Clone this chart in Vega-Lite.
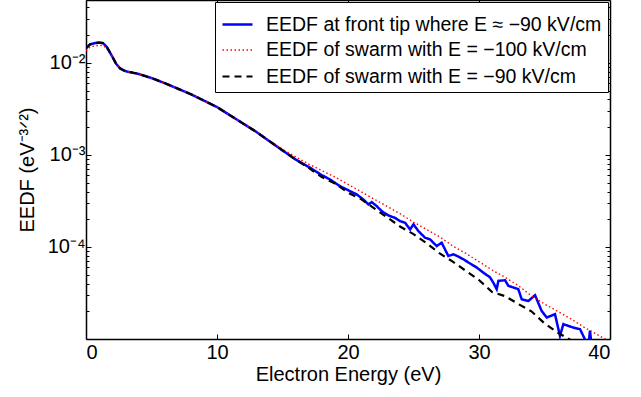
{
  "$schema": "https://vega.github.io/schema/vega-lite/v6.json",
  "width": 524,
  "height": 339,
  "autosize": {"type": "none"},
  "padding": {"left": 86, "top": 0, "right": 31, "bottom": 58},
  "config": {
    "view": {"stroke": null},
    "font": "Liberation Sans",
    "axis": {
      "grid": false,
      "domainColor": "#000000",
      "domainWidth": 1.5,
      "tickColor": "#000000",
      "tickWidth": 1,
      "labelColor": "#000000",
      "titleColor": "#000000",
      "labelFont": "Liberation Sans",
      "titleFont": "Liberation Sans",
      "labelFontSize": 20,
      "titleFontSize": 20,
      "titleFontWeight": "normal"
    }
  },
  "data": {
    "values": [
      {"s": "a", "E": 0, "v": 0.01445},
      {"s": "a", "E": 0.3, "v": 0.01585},
      {"s": "a", "E": 0.7, "v": 0.01641},
      {"s": "a", "E": 1.0, "v": 0.01660},
      {"s": "a", "E": 1.3, "v": 0.01641},
      {"s": "a", "E": 1.6, "v": 0.01479},
      {"s": "a", "E": 2.0, "v": 0.01175},
      {"s": "a", "E": 2.3, "v": 0.00977},
      {"s": "a", "E": 2.6, "v": 0.00871},
      {"s": "a", "E": 3.0, "v": 0.00813},
      {"s": "a", "E": 3.5, "v": 0.00785},
      {"s": "a", "E": 4, "v": 0.00759},
      {"s": "a", "E": 5, "v": 0.00684},
      {"s": "a", "E": 6, "v": 0.00603},
      {"s": "a", "E": 7, "v": 0.00525},
      {"s": "a", "E": 8, "v": 0.00457},
      {"s": "a", "E": 9, "v": 0.00389},
      {"s": "a", "E": 10, "v": 0.00331},
      {"s": "a", "E": 11, "v": 0.00269},
      {"s": "a", "E": 12, "v": 0.00219},
      {"s": "a", "E": 13, "v": 0.00178},
      {"s": "a", "E": 14, "v": 0.00141},
      {"s": "a", "E": 15, "v": 0.00112},
      {"s": "a", "E": 16, "v": 0.000891},
      {"s": "a", "E": 17, "v": 0.000741},
      {"s": "a", "E": 18, "v": 0.000603},
      {"s": "a", "E": 18.63, "v": 0.000541},
      {"s": "a", "E": 19.39, "v": 0.000457},
      {"s": "a", "E": 19.9, "v": 0.000421},
      {"s": "a", "E": 20.67, "v": 0.000372},
      {"s": "a", "E": 21.17, "v": 0.000328},
      {"s": "a", "E": 21.56, "v": 0.000290},
      {"s": "a", "E": 21.81, "v": 0.000307},
      {"s": "a", "E": 22.19, "v": 0.000278},
      {"s": "a", "E": 22.57, "v": 0.000245},
      {"s": "a", "E": 23.08, "v": 0.000220},
      {"s": "a", "E": 23.59, "v": 0.000207},
      {"s": "a", "E": 23.97, "v": 0.000191},
      {"s": "a", "E": 24.36, "v": 0.000183},
      {"s": "a", "E": 24.74, "v": 0.000155},
      {"s": "a", "E": 25.0, "v": 0.000176},
      {"s": "a", "E": 25.37, "v": 0.000149},
      {"s": "a", "E": 25.88, "v": 0.000126},
      {"s": "a", "E": 26.26, "v": 0.000121},
      {"s": "a", "E": 26.77, "v": 0.0001023},
      {"s": "a", "E": 27.15, "v": 0.0001112},
      {"s": "a", "E": 27.66, "v": 0.0000798},
      {"s": "a", "E": 28.05, "v": 0.0000832},
      {"s": "a", "E": 28.43, "v": 0.0000785},
      {"s": "a", "E": 28.81, "v": 0.0000735},
      {"s": "a", "E": 29.32, "v": 0.0000661},
      {"s": "a", "E": 29.83, "v": 0.0000597},
      {"s": "a", "E": 30.33, "v": 0.0000526},
      {"s": "a", "E": 30.84, "v": 0.0000468},
      {"s": "a", "E": 31.09, "v": 0.0000410},
      {"s": "a", "E": 31.35, "v": 0.0000348},
      {"s": "a", "E": 31.48, "v": 0.0000428},
      {"s": "a", "E": 31.99, "v": 0.0000435},
      {"s": "a", "E": 32.24, "v": 0.0000378},
      {"s": "a", "E": 33.0, "v": 0.0000348},
      {"s": "a", "E": 33.26, "v": 0.0000270},
      {"s": "a", "E": 33.77, "v": 0.0000259},
      {"s": "a", "E": 34.28, "v": 0.0000299},
      {"s": "a", "E": 34.78, "v": 0.0000202},
      {"s": "a", "E": 35.17, "v": 0.0000171},
      {"s": "a", "E": 35.8, "v": 0.0000186},
      {"s": "a", "E": 36.18, "v": 0.0000108},
      {"s": "a", "E": 36.44, "v": 0.0000145},
      {"s": "a", "E": 37.2, "v": 0.0000133},
      {"s": "a", "E": 37.71, "v": 0.0000128},
      {"s": "a", "E": 38.09, "v": 0.0000099},
      {"s": "a", "E": 38.35, "v": 0.0000085},
      {"s": "a", "E": 38.47, "v": 0.0000123},
      {"s": "a", "E": 38.6, "v": 0.0000085},

      {"s": "b", "E": 0, "v": 0.01349},
      {"s": "b", "E": 0.3, "v": 0.01479},
      {"s": "b", "E": 0.7, "v": 0.01531},
      {"s": "b", "E": 1.0, "v": 0.01549},
      {"s": "b", "E": 1.3, "v": 0.01549},
      {"s": "b", "E": 1.6, "v": 0.01429},
      {"s": "b", "E": 2.0, "v": 0.01175},
      {"s": "b", "E": 2.3, "v": 0.00977},
      {"s": "b", "E": 2.6, "v": 0.00871},
      {"s": "b", "E": 3.0, "v": 0.00813},
      {"s": "b", "E": 3.5, "v": 0.00785},
      {"s": "b", "E": 4, "v": 0.00759},
      {"s": "b", "E": 5, "v": 0.00684},
      {"s": "b", "E": 6, "v": 0.00603},
      {"s": "b", "E": 7, "v": 0.00525},
      {"s": "b", "E": 8, "v": 0.00457},
      {"s": "b", "E": 9, "v": 0.00389},
      {"s": "b", "E": 10, "v": 0.00331},
      {"s": "b", "E": 11, "v": 0.00269},
      {"s": "b", "E": 12, "v": 0.00219},
      {"s": "b", "E": 13, "v": 0.00178},
      {"s": "b", "E": 14, "v": 0.00142},
      {"s": "b", "E": 15, "v": 0.001148},
      {"s": "b", "E": 16, "v": 0.000955},
      {"s": "b", "E": 17, "v": 0.000794},
      {"s": "b", "E": 18, "v": 0.000676},
      {"s": "b", "E": 19, "v": 0.000575},
      {"s": "b", "E": 20, "v": 0.000479},
      {"s": "b", "E": 21, "v": 0.000398},
      {"s": "b", "E": 22, "v": 0.000331},
      {"s": "b", "E": 23, "v": 0.000275},
      {"s": "b", "E": 24, "v": 0.000229},
      {"s": "b", "E": 25, "v": 0.0001862},
      {"s": "b", "E": 26, "v": 0.0001549},
      {"s": "b", "E": 27, "v": 0.0001288},
      {"s": "b", "E": 28, "v": 0.0001023},
      {"s": "b", "E": 29, "v": 0.0000851},
      {"s": "b", "E": 30, "v": 0.0000692},
      {"s": "b", "E": 31, "v": 0.0000562},
      {"s": "b", "E": 32, "v": 0.0000468},
      {"s": "b", "E": 33, "v": 0.0000380},
      {"s": "b", "E": 34, "v": 0.0000295},
      {"s": "b", "E": 35, "v": 0.0000240},
      {"s": "b", "E": 36, "v": 0.0000200},
      {"s": "b", "E": 37, "v": 0.0000166},
      {"s": "b", "E": 38, "v": 0.00001349},
      {"s": "b", "E": 39, "v": 0.00001122},
      {"s": "b", "E": 40, "v": 0.00000933},

      {"s": "c", "E": 0, "v": 0.01445},
      {"s": "c", "E": 0.3, "v": 0.01585},
      {"s": "c", "E": 0.7, "v": 0.01641},
      {"s": "c", "E": 1.0, "v": 0.01660},
      {"s": "c", "E": 1.3, "v": 0.01641},
      {"s": "c", "E": 1.6, "v": 0.01479},
      {"s": "c", "E": 2.0, "v": 0.01175},
      {"s": "c", "E": 2.3, "v": 0.00977},
      {"s": "c", "E": 2.6, "v": 0.00871},
      {"s": "c", "E": 3.0, "v": 0.00813},
      {"s": "c", "E": 3.5, "v": 0.00785},
      {"s": "c", "E": 4, "v": 0.00759},
      {"s": "c", "E": 5, "v": 0.00684},
      {"s": "c", "E": 6, "v": 0.00603},
      {"s": "c", "E": 7, "v": 0.00525},
      {"s": "c", "E": 8, "v": 0.00457},
      {"s": "c", "E": 9, "v": 0.00389},
      {"s": "c", "E": 10, "v": 0.00331},
      {"s": "c", "E": 11, "v": 0.00269},
      {"s": "c", "E": 12, "v": 0.00219},
      {"s": "c", "E": 13, "v": 0.00178},
      {"s": "c", "E": 14, "v": 0.00141},
      {"s": "c", "E": 15, "v": 0.001122},
      {"s": "c", "E": 16, "v": 0.000891},
      {"s": "c", "E": 17, "v": 0.000724},
      {"s": "c", "E": 18, "v": 0.000575},
      {"s": "c", "E": 19, "v": 0.000490},
      {"s": "c", "E": 20, "v": 0.000389},
      {"s": "c", "E": 21, "v": 0.000331},
      {"s": "c", "E": 22, "v": 0.000263},
      {"s": "c", "E": 23, "v": 0.000209},
      {"s": "c", "E": 24, "v": 0.000166},
      {"s": "c", "E": 25, "v": 0.000138},
      {"s": "c", "E": 26, "v": 0.0001096},
      {"s": "c", "E": 27, "v": 0.0000851},
      {"s": "c", "E": 28, "v": 0.0000692},
      {"s": "c", "E": 29, "v": 0.0000550},
      {"s": "c", "E": 30, "v": 0.0000437},
      {"s": "c", "E": 31, "v": 0.0000324},
      {"s": "c", "E": 32, "v": 0.0000292},
      {"s": "c", "E": 33, "v": 0.0000240},
      {"s": "c", "E": 34, "v": 0.0000200},
      {"s": "c", "E": 35, "v": 0.00001479},
      {"s": "c", "E": 36, "v": 0.00001175},
      {"s": "c", "E": 37, "v": 0.00000977},
      {"s": "c", "E": 38, "v": 0.00000794}
    ]
  },
  "layer": [
    {
      "mark": {"type": "line", "clip": true},
      "encoding": {
        "x": {
          "field": "E", "type": "quantitative",
          "scale": {"domain": [0, 40], "nice": false, "zero": false},
          "axis": {
            "orient": "bottom",
            "values": [0, 10, 20, 30, 40],
            "tickSize": -5,
            "labelPadding": 8,
            "title": "Electron Energy (eV)",
            "titlePadding": 2
          }
        },
        "y": {
          "field": "v", "type": "quantitative",
          "scale": {"type": "log", "domain": [0.00001, 0.0482], "nice": false},
          "axis": {
            "orient": "left",
            "values": [0.00002, 0.00003, 0.00004, 0.00005, 0.00006, 0.00007, 0.00008, 0.00009, 0.0001, 0.0002, 0.0003, 0.0004, 0.0005, 0.0006, 0.0007, 0.0008, 0.0009, 0.001, 0.002, 0.003, 0.004, 0.005, 0.006, 0.007, 0.008, 0.009, 0.01, 0.02, 0.03, 0.04],
            "labelExpr": "datum.value == 0.01 ? '10⁻²' : datum.value == 0.001 ? '10⁻³' : datum.value == 0.0001 ? '10⁻⁴' : ''",
            "tickSize": {"condition": {"test": "datum.value == 0.01 || datum.value == 0.001 || datum.value == 0.0001", "value": -5}, "value": -3},
            "labelPadding": 6,
            "title": "EEDF (eV⁻³ᐟ²)",
            "titlePadding": 10
          }
        },
        "color": {
          "field": "s", "type": "nominal",
          "scale": {"domain": ["a", "b", "c"], "range": ["#0000ff", "#ff0000", "#000000"]},
          "legend": {
            "orient": "top-right",
            "offset": 2,
            "title": null,
            "symbolType": "stroke",
            "symbolSize": 900,
            "labelFontSize": 19.5,
            "labelFont": "Liberation Sans",
            "labelColor": "#000000",
            "labelLimit": 500,
            "labelOffset": 12,
            "rowPadding": 0,
            "padding": 6,
            "fillColor": "#ffffff",
            "strokeColor": "#000000",
            "labelExpr": "{'a': 'EEDF at front tip where E ≈ −90 kV/cm', 'b': 'EEDF of swarm with E = −100 kV/cm', 'c': 'EEDF of swarm with E = −90 kV/cm'}[datum.label]"
          }
        },
        "strokeDash": {
          "field": "s", "type": "nominal",
          "scale": {"domain": ["a", "b", "c"], "range": [[1, 0], [1.5, 2.5], [7, 5]]}
        },
        "strokeWidth": {
          "field": "s", "type": "nominal",
          "scale": {"type": "ordinal", "domain": ["a", "b", "c"], "range": [2.5, 1.4, 2.2]}
        }
      }
    },
    {
      "mark": {"type": "line", "opacity": 0},
      "encoding": {
        "x": {
          "field": "E", "type": "quantitative",
          "axis": {"orient": "top", "values": [0, 10, 20, 30, 40], "tickSize": -5, "labels": false, "title": null}
        },
        "y": {
          "field": "v", "type": "quantitative",
          "axis": {
            "orient": "right",
            "values": [0.00002, 0.00003, 0.00004, 0.00005, 0.00006, 0.00007, 0.00008, 0.00009, 0.0001, 0.0002, 0.0003, 0.0004, 0.0005, 0.0006, 0.0007, 0.0008, 0.0009, 0.001, 0.002, 0.003, 0.004, 0.005, 0.006, 0.007, 0.008, 0.009, 0.01, 0.02, 0.03, 0.04],
            "tickSize": {"condition": {"test": "datum.value == 0.01 || datum.value == 0.001 || datum.value == 0.0001", "value": -5}, "value": -3},
            "labels": false,
            "title": null
          }
        },
        "detail": {"field": "s", "type": "nominal"}
      }
    }
  ],
  "resolve": {"axis": {"x": "independent", "y": "independent"}}
}
